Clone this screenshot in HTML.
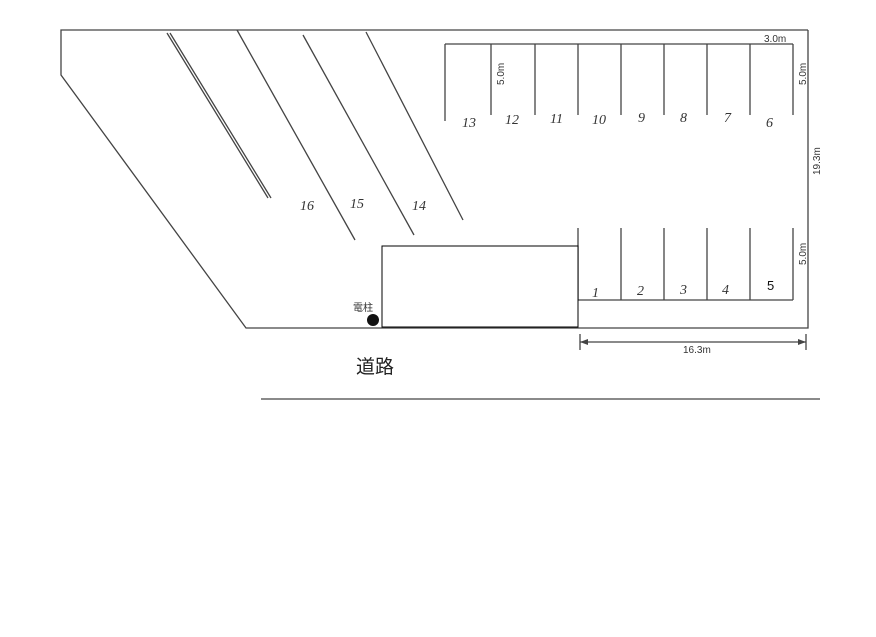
<!DOCTYPE html>
<html><head><meta charset="utf-8"><style>
html,body{margin:0;padding:0;background:#fff;}
svg{display:block}
text{font-family:"Liberation Sans","Noto Sans CJK JP",sans-serif;fill:#333}
.h{font-family:"Liberation Serif",serif;font-style:italic;font-size:14px;fill:#333}
</style></head><body>
<svg width="876" height="637" viewBox="0 0 876 637" xmlns="http://www.w3.org/2000/svg">
<g stroke="#444" stroke-width="1.3" fill="none">
<polyline points="808,30 61,30 61,75 246,328 808,328 808,30"/>
<line x1="167" y1="33" x2="268" y2="198"/>
<line x1="170" y1="33" x2="271" y2="198"/>
<line x1="237" y1="30" x2="355" y2="240"/>
<line x1="303" y1="35" x2="414" y2="235"/>
<line x1="366" y1="32" x2="463" y2="220"/>
<line x1="445" y1="44" x2="793" y2="44"/>
<line x1="445" y1="44" x2="445" y2="121"/>
<line x1="491" y1="44" x2="491" y2="115"/>
<line x1="535" y1="44" x2="535" y2="115"/>
<line x1="578" y1="44" x2="578" y2="115"/>
<line x1="621" y1="44" x2="621" y2="115"/>
<line x1="664" y1="44" x2="664" y2="115"/>
<line x1="707" y1="44" x2="707" y2="115"/>
<line x1="750" y1="44" x2="750" y2="115"/>
<line x1="793" y1="44" x2="793" y2="115"/>
<line x1="578" y1="228" x2="578" y2="300"/>
<line x1="621" y1="228" x2="621" y2="300"/>
<line x1="664" y1="228" x2="664" y2="300"/>
<line x1="707" y1="228" x2="707" y2="300"/>
<line x1="750" y1="228" x2="750" y2="300"/>
<line x1="793" y1="228" x2="793" y2="300"/>
<line x1="578" y1="300" x2="793" y2="300"/>
<line x1="580" y1="342" x2="806" y2="342"/>
<line x1="580" y1="334" x2="580" y2="350"/>
<line x1="806" y1="334" x2="806" y2="350"/>
<line x1="261" y1="399" x2="820" y2="399"/>
</g>
<polygon points="580,342 588,339 588,345" fill="#444"/>
<polygon points="806,342 798,339 798,345" fill="#444"/>
<rect x="382" y="246" width="196" height="81" fill="#fff" stroke="#000" stroke-width="1"/>
<circle cx="373" cy="320" r="6" fill="#111"/>
<text x="353" y="311" font-size="10">電柱</text>
<text x="356" y="373" font-size="19" style="fill:#222">道路</text>
<text x="767" y="290" font-size="13" style="fill:#111">5</text>
<text x="764" y="42" font-size="10">3.0m</text>
<text x="683" y="353" font-size="10">16.3m</text>
<text font-size="10" transform="translate(504,85) rotate(-90)">5.0m</text>
<text font-size="10" transform="translate(806,85) rotate(-90)">5.0m</text>
<text font-size="10" transform="translate(806,265) rotate(-90)">5.0m</text>
<text font-size="10" transform="translate(820,175) rotate(-90)">19.3m</text>
<g class="h">
<text class="h" x="462" y="127">13</text><text class="h" x="505" y="124">12</text>
<text class="h" x="550" y="123">11</text><text class="h" x="592" y="124">10</text>
<text class="h" x="638" y="122">9</text><text class="h" x="680" y="122">8</text>
<text class="h" x="724" y="122">7</text><text class="h" x="766" y="127">6</text>
<text class="h" x="592" y="297">1</text><text class="h" x="637" y="295">2</text>
<text class="h" x="680" y="294">3</text><text class="h" x="722" y="294">4</text>
<text class="h" x="300" y="210">16</text><text class="h" x="350" y="208">15</text>
<text class="h" x="412" y="210">14</text>
</g>
</svg>
</body></html>
